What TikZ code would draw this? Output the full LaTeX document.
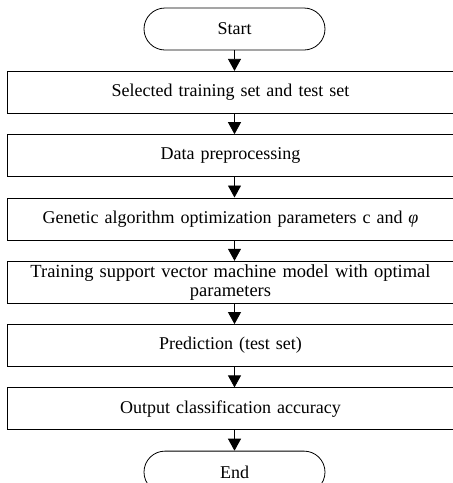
\documentclass[tikz,border=0pt]{standalone}
\usepackage{fontspec}
\setmainfont{Liberation Serif}
\usetikzlibrary{arrows.meta,shapes.misc,positioning}

\tikzset{
	stepbox/.style={draw, line width=0.8pt, minimum width=443pt, minimum height=42pt, text width=435pt, align=center, inner ysep=1pt},
	term/.style={draw, line width=0.8pt, rounded rectangle, minimum width=193pt, minimum height=42pt},
	flow/.style={line width=0.8pt, -{Triangle[width=13pt,length=12pt]}}
}

\begin{document}
\begin{tikzpicture}[node distance=20.5pt]
				\fontsize{18}{19}\selectfont
				\useasboundingbox (0,0) rectangle (453pt,-483pt);
				\node[term] (start) at (234.5pt,-29pt) {Start};
				\node[stepbox, below=of start, xshift=-4pt] (select) {Selected training set and test set};
				\node[stepbox, below=of select] (prep) {Data preprocessing};
				\node[stepbox, below=of prep] (ga) {Genetic algorithm optimization parameters c and {\itshape φ}};
				\node[stepbox, below=of ga, font=\fontsize{18.5}{19}\selectfont] (svm) {Training support vector machine model with optimal\\parameters};
				\node[stepbox, below=of svm] (pred) {Prediction (test set)};
				\node[stepbox, below=of pred] (acc) {Output classification accuracy};
				\node[term, below=of acc, xshift=4pt] (end) {End};
				% arrows between the steps
				\foreach \a/\b in {start/select,select/prep,prep/ga,ga/svm,svm/pred,pred/acc,acc/end}
					\draw[flow] (\a.south -| start) -- (\b.north -| start);
			\end{tikzpicture}
\end{document}
